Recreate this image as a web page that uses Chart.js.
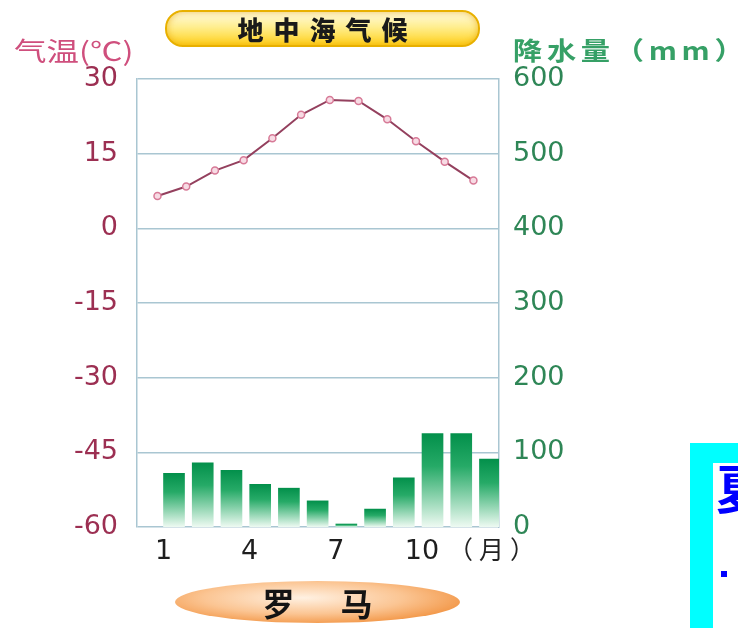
<!DOCTYPE html>
<html>
<head>
<meta charset="utf-8">
<script src="https://cdn.jsdelivr.net/npm/chart.js@4/dist/chart.umd.min.js"></script>
<style>
  html, body { margin: 0; padding: 0; background: #ffffff; }
  #wrap { position: relative; width: 738px; height: 628px; overflow: hidden; background: #ffffff; }
  #c { position: absolute; left: 0; top: 0; }
  .pill {
    position: absolute; left: 165px; top: 10px; width: 315px; height: 37px;
    border-radius: 18px; box-sizing: border-box;
    border: 2px solid #e8b000;
    background: linear-gradient(to bottom, #fffbe0 0%, #ffee90 45%, #ffd21e 100%);
    box-shadow: inset 0 0 7px rgba(230,160,0,0.65);
    font-family: "Noto Sans CJK SC", sans-serif; font-weight: 900; font-size: 26px;
    color: #1a1a1a; text-align: center; line-height: 33px; letter-spacing: 10px; text-indent: 10px;
  }
  .ttl { position: absolute; font-family: "Noto Sans CJK SC", sans-serif; white-space: nowrap; line-height: 1; transform-origin: 0 50%; }
  .oval {
    position: absolute; left: 175px; top: 581px; width: 285px; height: 42px; border-radius: 50%;
    background: radial-gradient(ellipse at 45% 40%, #fff1e2 0%, #fbc593 45%, #f08a32 85%, #e4741c 100%);
    font-family: "Noto Sans CJK SC", sans-serif; font-weight: 700; font-size: 32px;
    color: #141414; text-align: center; line-height: 42px; letter-spacing: 46px; text-indent: 46px;
  }
  .cyan { position: absolute; left: 690px; top: 443px; width: 60px; height: 200px; background: #00ffff; }
  .inner { position: absolute; left: 713px; top: 463px; width: 40px; height: 180px; background: #ffffff; overflow: hidden; }
  .inner .ch { position: absolute; left: 3px; top: -6px; font-family: "Noto Sans CJK SC", sans-serif; font-weight: 700; font-size: 52px; color: #0000ff; line-height: 60px; }
  .inner .dot { position: absolute; left: 8px; top: 108px; width: 6px; height: 6px; background: #0000ff; }
</style>
</head>
<body>
<div id="wrap">
  <canvas id="c" width="738" height="628"></canvas>
  <div class="pill">地中海气候</div>
  <div class="ttl" style="left:14px; top:37px; font-size:26px; color:#cf4f7d; transform:scaleX(1.25);">气温(℃)</div>
  <div class="ttl" style="left:513px; top:37px; font-size:25px; color:#36a066; font-weight:700; letter-spacing:4px; transform:scaleX(1.17);">降水量（mm）</div>
  <div class="ttl" style="left:448px; top:536px; font-size:25px; color:#222222; letter-spacing:6px;">（月）</div>
  <div class="oval">罗马</div>
  <div class="cyan"></div>
  <div class="inner"><div class="ch">夏</div><div class="dot"></div></div>
</div>
<script>
// Rome, monthly climate
const months = [1, 2, 3, 4, 5, 6, 7, 8, 9, 10, 11, 12];
const temperature = [6.5, 8.4, 11.6, 13.7, 18.1, 22.8, 25.8, 25.6, 21.9, 17.5, 13.4, 9.6];   // °C
const precipitation = [72, 86, 76, 57, 52, 35, 4, 24, 66, 125, 125, 91];                      // mm
const monthTicks = [1, 4, 7, 10];
const tempTicks = [-60, -45, -30, -15, 0, 15, 30];
const rainTicks = [0, 100, 200, 300, 400, 500, 600];

const gridColor = '#a9c6d2';

// vertical fade per bar: deep green at the top, near white at the base
function barGradient(ctx) {
  const chart = ctx.chart;
  const s = chart.scales && chart.scales.y2;
  if (!s || ctx.dataIndex === undefined) return '#0f9a58';
  const top = s.getPixelForValue(precipitation[ctx.dataIndex]);
  const base = s.getPixelForValue(0);
  if (!isFinite(top) || !isFinite(base) || base - top < 0.5) return '#0f9a58';
  const g = chart.ctx.createLinearGradient(0, top, 0, base);
  g.addColorStop(0, '#03904b');
  g.addColorStop(0.35, '#26aa67');
  g.addColorStop(1, '#eefaf2');
  return g;
}

new Chart(document.getElementById('c'), {
  data: {
    datasets: [
      {
        type: 'line',
        label: '气温',
        data: months.map((m, i) => ({ x: m, y: temperature[i] })),
        xAxisID: 'x2',
        yAxisID: 'y',
        borderColor: '#94405e',
        borderWidth: 2,
        tension: 0,
        pointRadius: 3.5,
        pointBorderWidth: 1.5,
        pointBorderColor: '#d77a97',
        pointBackgroundColor: '#f7dbe4',
        order: 0
      },
      {
        type: 'bar',
        label: '降水量',
        data: months.map((m, i) => ({ x: m, y: precipitation[i] })),
        xAxisID: 'x',
        yAxisID: 'y2',
        backgroundColor: barGradient,
        borderWidth: 0,
        barThickness: 21,
        order: 1
      }
    ]
  },
  options: {
    responsive: false,
    animation: false,
    devicePixelRatio: 1,
    layout: { padding: { top: 79, left: 0, right: 0, bottom: 0 } },
    plugins: { legend: { display: false }, tooltip: { enabled: false } },
    scales: {
      x: {
        type: 'linear',
        offset: false,
        min: 0.077, max: 12.68,
        afterBuildTicks: s => { s.ticks = monthTicks.map(v => ({ value: v })); },
        afterFit: s => { s.height = 101; },
        grid: { display: false, offset: false },
        border: { display: false },
        ticks: {
          padding: 1,
          color: '#1e1e1e',
          font: { family: 'DejaVu Sans', size: 27 },
          callback: v => String(v)
        }
      },
      x2: {
        type: 'linear',
        display: false,
        offset: false,
        min: 0.287, max: 12.89
      },
      y: {
        position: 'left',
        min: -60, max: 30,
        afterBuildTicks: s => { s.ticks = tempTicks.map(v => ({ value: v })); },
        afterFit: s => { s.width = 137; },
        grid: { color: gridColor, lineWidth: 1.5, drawTicks: false },
        border: { display: true, color: gridColor, width: 1.5 },
        ticks: {
          padding: 19,
          color: '#9c2f52',
          font: { family: 'DejaVu Sans', size: 27 }
        }
      },
      y2: {
        position: 'right',
        min: 0, max: 600,
        afterBuildTicks: s => { s.ticks = rainTicks.map(v => ({ value: v })); },
        afterFit: s => { s.width = 239; },
        grid: { display: false, drawTicks: false },
        border: { display: true, color: gridColor, width: 1.5 },
        ticks: {
          padding: 14,
          color: '#2e8656',
          font: { family: 'DejaVu Sans', size: 27 }
        }
      }
    }
  }
});
</script>
</body>
</html>
